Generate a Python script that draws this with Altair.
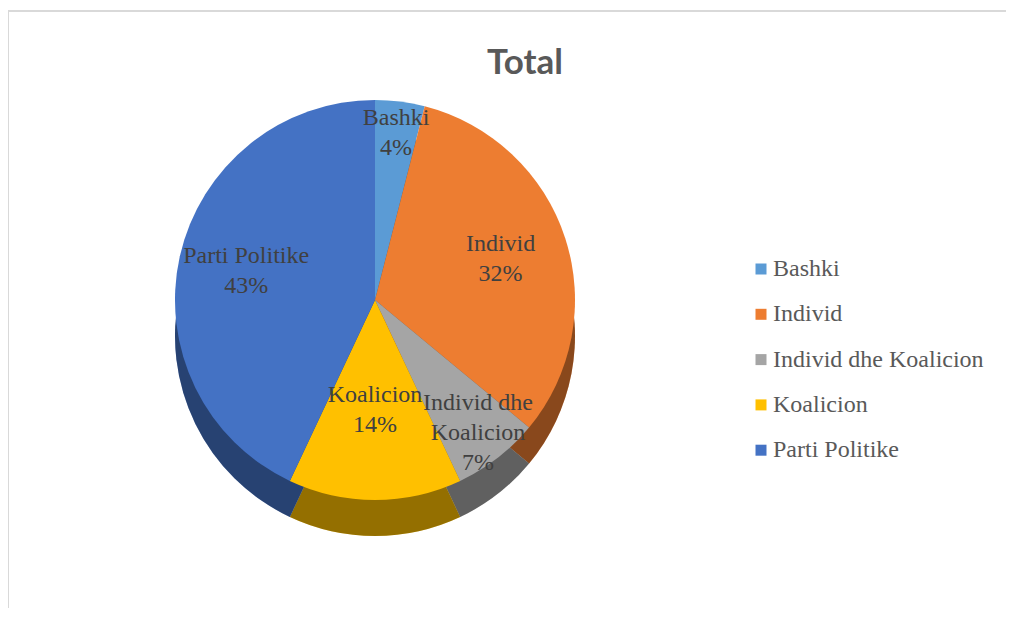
import altair as alt
import pandas as pd

categories = ["Bashki", "Individ", "Individ dhe Koalicion", "Koalicion", "Parti Politike"]
shares = [4, 32, 7, 14, 43]
label_names = ["Bashki", "Individ", "Individ dhe\nKoalicion", "Koalicion", "Parti Politike"]
colors = ["#5B9BD5", "#ED7D31", "#A5A5A5", "#FFC000", "#4472C4"]
title_text = "Total"

df = pd.DataFrame({
    "cat": categories,
    "share": shares,
    "order": list(range(len(categories))),
    "label": [f"{n}\n{s}%" for n, s in zip(label_names, shares)],
})

CX, CY, R, DEPTH = 367, 292, 200, 36
SERIF = "Liberation Serif"
LINE_H = 30

color_enc = alt.Color(
    "cat:N",
    scale=alt.Scale(domain=categories, range=colors),
    legend=alt.Legend(
        title=None, orient="none", legendX=741, legendY=249,
        symbolType="square", symbolSize=121, symbolStrokeWidth=0,
        labelFont=SERIF, labelFontSize=24, labelColor="#595959",
        labelOffset=0, rowPadding=21.3, padding=0, labelLimit=400,
    ),
)

base = alt.Chart(df).encode(
    theta=alt.Theta("share:Q", stack=True),
    order=alt.Order("order:Q"),
)

frame = alt.Chart(pd.DataFrame({"a": [0]})).mark_rect(
    fill="white", stroke="#d9d9d9", strokeWidth=2
).encode(x=alt.value(0), x2=alt.value(1100), y=alt.value(3), y2=alt.value(700))

side = base.mark_arc(radius=R).encode(color=color_enc, x=alt.value(CX), y=alt.value(CY + DEPTH))
shade = base.mark_arc(radius=R, color="black", opacity=0.42).encode(
    x=alt.value(CX), y=alt.value(CY + DEPTH)
)
top = base.mark_arc(radius=R).encode(color=color_enc, x=alt.value(CX), y=alt.value(CY))
labels = base.mark_text(
    radius=alt.ExprRef(
        f"datum.share < 10 ? {0.84 * R} : (datum.share < 20 ? {0.55 * R} : {0.66 * R})"
    ),
    dy=alt.ExprRef(f"-{LINE_H / 2} * (length(split(datum.label, '\\n')) - 1)"),
    lineBreak="\n", font=SERIF, fontSize=24,
    color="#404040", lineHeight=LINE_H, baseline="middle", align="center",
).encode(text="label:N", x=alt.value(CX), y=alt.value(CY))

title = alt.Chart(pd.DataFrame({"t": [title_text]})).mark_text(
    font="Lato", fontWeight="bold", fontSize=35, color="#595959"
).encode(text="t:N", x=alt.value(517), y=alt.value(55))

chart = alt.layer(frame, side, shade, top, labels, title).properties(
    width=998, height=600, autosize=alt.AutoSizeParams(type="none"), padding=0
).configure_view(stroke=None)

chart.save("out.html", embed_options={"renderer": "svg", "actions": False})
